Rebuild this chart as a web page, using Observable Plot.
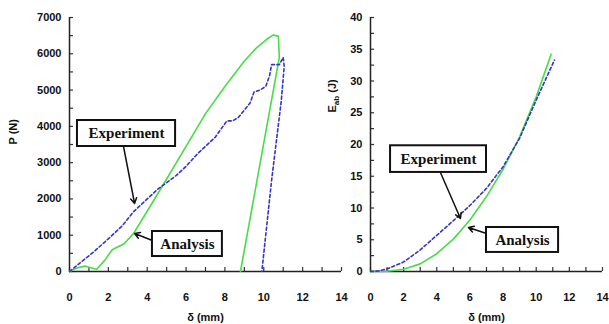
<!DOCTYPE html>
<html><head><meta charset="utf-8">
<script src="https://cdn.jsdelivr.net/npm/d3@7"></script>
<script src="https://cdn.jsdelivr.net/npm/@observablehq/plot@0.6"></script>
<style>
html,body{margin:0;padding:0;background:#fff;}
#wrap{position:relative;width:609px;height:324px;overflow:hidden;background:#fff;}
#left,#right{position:absolute;top:0;}
#left{left:0;} #right{left:300px;}
</style></head><body><div id="wrap"><div id="left"></div><div id="right"></div></div>
<script>
// ---- Left panel: load P (N) vs displacement δ (mm)
const loadAnalysisDelta = [0, 0.4, 0.8, 1.0, 1.4, 1.8, 2.2, 2.5, 2.8, 3.3, 4.1, 5.0, 6.0, 7.0, 8.0, 9.0, 9.6, 10.15, 10.5, 10.75, 10.8, 8.8];
const loadAnalysisP     = [0, 100, 150, 120, 60, 300, 600, 680, 760, 1050, 1750, 2550, 3450, 4350, 5100, 5800, 6150, 6400, 6520, 6480, 5900, 0];
const loadExperimentDelta = [0, 0.5, 1.2, 2.0, 2.7, 3.3, 4.0, 4.5, 5.0, 5.5, 6.0, 6.6, 7.0, 7.5, 7.9, 8.1, 8.4, 8.7, 9.0, 9.3, 9.5, 9.8, 10.1, 10.3, 10.4, 10.8, 11.0, 11.05, 10.9, 10.4, 9.9];
const loadExperimentP     = [0, 220, 520, 900, 1250, 1650, 2000, 2250, 2450, 2650, 2900, 3250, 3450, 3700, 4000, 4150, 4150, 4250, 4450, 4650, 4950, 5000, 5100, 5400, 5700, 5700, 5900, 5650, 4700, 2500, 0];
// ---- Right panel: absorbed energy (J) vs displacement δ (mm)
const energyAnalysisDelta = [0, 1, 2, 3, 4, 5, 6, 7, 8, 9, 10, 10.9];
const energyAnalysisE     = [0, 0.05, 0.35, 1.2, 2.8, 5.1, 8.1, 11.8, 16.1, 21.2, 27.5, 34.2];
const energyExperimentDelta = [0, 0.5, 1, 2, 3, 4, 5, 6, 7, 8, 9, 10, 11.1];
const energyExperimentE     = [0, 0.1, 0.4, 1.5, 3.4, 5.7, 8.0, 10.4, 13.1, 16.5, 21.0, 27.0, 33.3];
// ---- Ticks
const deltaTicks = [0, 2, 4, 6, 8, 10, 12, 14];
const deltaMinorTicks = [0, 1, 2, 3, 4, 5, 6, 7, 8, 9, 10, 11, 12, 13, 14];
const loadTicks = [0, 1000, 2000, 3000, 4000, 5000, 6000, 7000];
const loadMinorTicks = [0, 500, 1000, 1500, 2000, 2500, 3000, 3500, 4000, 4500, 5000, 5500, 6000, 6500, 7000];
const energyTicks = [0, 5, 10, 15, 20, 25, 30, 35, 40];
const energyMinorTicks = [0, 2.5, 5, 7.5, 10, 12.5, 15, 17.5, 20, 22.5, 25, 27.5, 30, 32.5, 35, 37.5, 40];
// ---- Texts
const seriesLabels = ["Experiment", "Analysis"];
const xTitle = "δ (mm)";
const loadTitle = "P (N)";
const energyTitle = "Eab (J)";

// ---- Annotation layout (data units), kept apart from the data
const leftNotes = [
  {label: seriesLabels[0], x1: 0.41, x2: 5.46, y1: 3445, y2: 4161, ax1: 2.78, ay1: 3445, ax2: 3.35, ay2: 1874},
  {label: seriesLabels[1], x1: 4.27, x2: 7.87, y1: 413, y2: 1102, ax1: 4.27, ay1: 854, ax2: 3.35, ay2: 1047}
];
const rightNotes = [
  {label: seriesLabels[0], x1: 1.21, x2: 7.0, y1: 15.6, y2: 19.8, ax1: 4.22, ay1: 15.6, ax2: 5.43, ay2: 8.35},
  {label: seriesLabels[1], x1: 7.0, x2: 11.35, y1: 3.0, y2: 6.93, ax1: 7.0, ay1: 5.98, ax2: 5.91, ay2: 6.93}
];

const BLUE = "#3535c8", GREEN = "#48dc48";
const sans = "'Liberation Sans', Arial, sans-serif";
const serif = "'Liberation Serif', 'Times New Roman', serif";
const plain = d3.format("d");

function panel({width, marginLeft, marginRight, yDomain, yTicks, yMinor, yTitle, titleDx, titleDy, series, notes}) {
  const marks = [
    Plot.axisX(deltaMinorTicks, {tickSize: 4, dy: -4, tickFormat: () => "", stroke: "#333", strokeWidth: 1.2, label: null}),
    Plot.axisX(deltaTicks, {tickSize: 0, tickPadding: 22, tickFormat: plain, fontSize: 11, fontWeight: "bold", fontFamily: sans, fill: "#111", label: null}),
    Plot.axisY(yMinor, {tickSize: 4, dx: 4, tickFormat: () => "", stroke: "#333", strokeWidth: 1.2, label: null}),
    Plot.axisY(yTicks, {tickSize: 0, tickPadding: 8, tickFormat: plain, fontSize: 11, fontWeight: "bold", fontFamily: sans, fill: "#111", label: null}),
    Plot.ruleY([0], {stroke: "#222", strokeWidth: 1.5}),
    Plot.ruleX([0], {stroke: "#222", strokeWidth: 1.5}),
  ];
  for (const s of series) {
    marks.push(Plot.line(d3.range(s.x.length), {
      x: i => s.x[i], y: i => s.y[i], stroke: s.color, strokeWidth: 1.6,
      strokeDasharray: s.dash || null, curve: "linear"
    }));
  }
  marks.push(
    Plot.arrow(notes, {x1: "ax1", y1: "ay1", x2: "ax2", y2: "ay2", stroke: "#111", strokeWidth: 1.5, headLength: 6}),
    Plot.rect(notes, {x1: "x1", x2: "x2", y1: "y1", y2: "y2", fill: "white", stroke: "#111", strokeWidth: 2}),
    Plot.text(notes, {x: d => (d.x1 + d.x2) / 2, y: d => (d.y1 + d.y2) / 2, text: "label", fontFamily: serif, fontWeight: "bold", fontSize: 15, fill: "#111", lineAnchor: "middle"}),
    Plot.text([xTitle], {frameAnchor: "bottom", dy: 46, fontSize: 11, fontWeight: "bold", fontFamily: sans, fill: "#111", lineAnchor: "middle"}),
    Plot.text([yTitle], {frameAnchor: "left", dx: titleDx, dy: titleDy, rotate: -90, fontSize: 11, fontWeight: "bold", fontFamily: sans, fill: "#111", lineAnchor: "middle"})
  );
  return Plot.plot({
    width, height: 324,
    marginLeft, marginRight, marginTop: 17, marginBottom: 53,
    style: {background: "transparent", overflow: "visible"},
    x: {domain: [0, 14]},
    y: {domain: yDomain},
    marks
  });
}

const left = panel({
  width: 350, marginLeft: 69, marginRight: 9,
  yDomain: [0, 7000], yTicks: loadTicks, yMinor: loadMinorTicks, yTitle: loadTitle, titleDx: -56, titleDy: 0,
  series: [
    {x: loadAnalysisDelta, y: loadAnalysisP, color: GREEN},
    {x: loadExperimentDelta, y: loadExperimentP, color: BLUE, dash: "3,2.5"}
  ],
  notes: leftNotes
});
const right = panel({
  width: 309, marginLeft: 70, marginRight: 7,
  yDomain: [0, 40], yTicks: energyTicks, yMinor: energyMinorTicks, yTitle: energyTitle, titleDx: -38, titleDy: -32,
  series: [
    {x: energyAnalysisDelta, y: energyAnalysisE, color: GREEN},
    {x: energyExperimentDelta, y: energyExperimentE, color: BLUE, dash: "3,2.5"}
  ],
  notes: rightNotes
});
document.getElementById("left").appendChild(left);
document.getElementById("right").appendChild(right);

// subscript on the energy axis title
d3.select(right).selectAll("text").filter(function() { return this.textContent === energyTitle; })
  .each(function() {
    const t = d3.select(this);
    t.text(null);
    t.append("tspan").text("E");
    t.append("tspan").attr("font-size", 8).attr("dy", 3).text("ab");
    t.append("tspan").attr("dy", -3).text(" (J)");
  });
</script></body></html>
